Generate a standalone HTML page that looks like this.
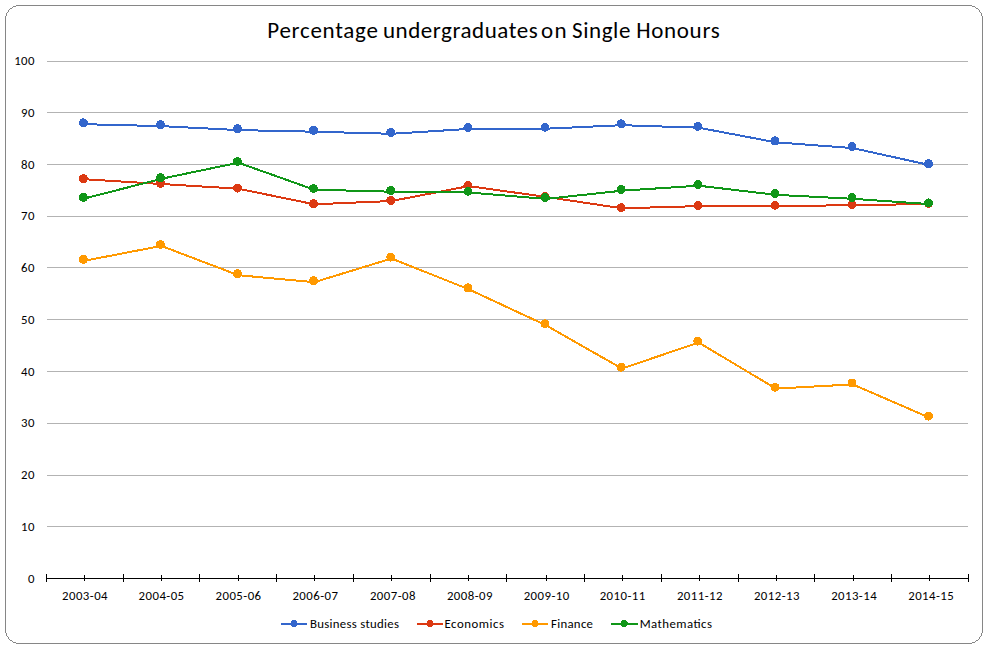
<!DOCTYPE html><html><head><meta charset="utf-8"><title>Percentage undergraduates on Single Honours</title><style>
html,body{margin:0;padding:0;background:#fff;}body{width:987px;height:648px;overflow:hidden;}
svg{display:block;}text{font-family:Carlito,"Liberation Sans",sans-serif;fill:#000;}
.l{fill:none;stroke-width:2;stroke-linejoin:round;}.c{shape-rendering:crispEdges;}
.ax{font-size:12.8px;}.lg{font-size:12.8px;}
.ti{font-size:23px;}
</style></head><body>
<svg width="987" height="648" viewBox="0 0 987 648">
<path fill="#868686" shape-rendering="crispEdges" d="M13 6h3v1h-3zM13 642h3v1h-3zM972 6h3v1h-3zM972 642h3v1h-3zM12 7h1v1h-1zM12 641h1v1h-1zM975 7h1v1h-1zM975 641h1v1h-1zM10 8h2v1h-2zM10 640h2v1h-2zM976 8h2v1h-2zM976 640h2v1h-2zM9 9h1v1h-1zM9 639h1v1h-1zM978 9h1v1h-1zM978 639h1v1h-1zM8 10h1v1h-1zM8 638h1v1h-1zM979 10h1v1h-1zM979 638h1v1h-1zM8 11h1v1h-1zM8 637h1v1h-1zM979 11h1v1h-1zM979 637h1v1h-1zM7 12h1v1h-1zM7 636h1v1h-1zM980 12h1v1h-1zM980 636h1v1h-1zM6 13h1v1h-1zM6 635h1v1h-1zM981 13h1v1h-1zM981 635h1v1h-1zM6 14h1v1h-1zM6 634h1v1h-1zM981 14h1v1h-1zM981 634h1v1h-1zM6 15h1v1h-1zM6 633h1v1h-1zM981 15h1v1h-1zM981 633h1v1h-1zM16 5h956v1h-956zM16 643h956v1h-956zM5 16h1v617h-1zM982 16h1v617h-1z"/>
<text class="ti" x="267.3" y="38" textLength="110.6">Percentage</text>
<text class="ti" x="382.9" y="38" textLength="154.8">undergraduates</text>
<text class="ti" x="541.1" y="38" textLength="25.5">on</text>
<text class="ti" x="572.0" y="38" textLength="58.4">Single</text>
<text class="ti" x="636.2" y="38" textLength="83.5">Honours</text>
<line x1="47" y1="526.5" x2="968" y2="526.5" stroke="#b3b3b3" stroke-width="1"/>
<line x1="47" y1="475.5" x2="968" y2="475.5" stroke="#b3b3b3" stroke-width="1"/>
<line x1="47" y1="423.5" x2="968" y2="423.5" stroke="#b3b3b3" stroke-width="1"/>
<line x1="47" y1="371.5" x2="968" y2="371.5" stroke="#b3b3b3" stroke-width="1"/>
<line x1="47" y1="319.5" x2="968" y2="319.5" stroke="#b3b3b3" stroke-width="1"/>
<line x1="47" y1="267.5" x2="968" y2="267.5" stroke="#b3b3b3" stroke-width="1"/>
<line x1="47" y1="216.5" x2="968" y2="216.5" stroke="#b3b3b3" stroke-width="1"/>
<line x1="47" y1="164.5" x2="968" y2="164.5" stroke="#b3b3b3" stroke-width="1"/>
<line x1="47" y1="112.5" x2="968" y2="112.5" stroke="#b3b3b3" stroke-width="1"/>
<line x1="47" y1="61.5" x2="968" y2="61.5" stroke="#b3b3b3" stroke-width="1"/>
<text class="ax" y="583" x="28.01" textLength="6.49">0</text>
<text class="ax" y="531" x="21.08" textLength="13.43">10</text>
<text class="ax" y="479" x="21.08" textLength="13.43">20</text>
<text class="ax" y="427" x="21.08" textLength="13.43">30</text>
<text class="ax" y="376" x="21.08" textLength="13.43">40</text>
<text class="ax" y="324" x="21.08" textLength="13.43">50</text>
<text class="ax" y="272" x="21.08" textLength="13.43">60</text>
<text class="ax" y="220" x="21.08" textLength="13.43">70</text>
<text class="ax" y="169" x="21.08" textLength="13.43">80</text>
<text class="ax" y="117" x="21.08" textLength="13.43">90</text>
<text class="ax" y="65" x="14.14" textLength="20.36">100</text>
<line x1="46" y1="578.5" x2="969" y2="578.5" stroke="#000" stroke-width="1"/>
<line x1="46.5" y1="574" x2="46.5" y2="582" stroke="#000" stroke-width="1"/>
<line x1="123.5" y1="574" x2="123.5" y2="582" stroke="#000" stroke-width="1"/>
<line x1="199.5" y1="574" x2="199.5" y2="582" stroke="#000" stroke-width="1"/>
<line x1="276.5" y1="574" x2="276.5" y2="582" stroke="#000" stroke-width="1"/>
<line x1="353.5" y1="574" x2="353.5" y2="582" stroke="#000" stroke-width="1"/>
<line x1="430.5" y1="574" x2="430.5" y2="582" stroke="#000" stroke-width="1"/>
<line x1="506.5" y1="574" x2="506.5" y2="582" stroke="#000" stroke-width="1"/>
<line x1="584.5" y1="574" x2="584.5" y2="582" stroke="#000" stroke-width="1"/>
<line x1="661.5" y1="574" x2="661.5" y2="582" stroke="#000" stroke-width="1"/>
<line x1="738.5" y1="574" x2="738.5" y2="582" stroke="#000" stroke-width="1"/>
<line x1="814.5" y1="574" x2="814.5" y2="582" stroke="#000" stroke-width="1"/>
<line x1="891.5" y1="574" x2="891.5" y2="582" stroke="#000" stroke-width="1"/>
<line x1="968.5" y1="574" x2="968.5" y2="582" stroke="#000" stroke-width="1"/>
<line x1="84.5" y1="575" x2="84.5" y2="581" stroke="#000" stroke-width="1"/>
<line x1="161.5" y1="575" x2="161.5" y2="581" stroke="#000" stroke-width="1"/>
<line x1="238.5" y1="575" x2="238.5" y2="581" stroke="#000" stroke-width="1"/>
<line x1="314.5" y1="575" x2="314.5" y2="581" stroke="#000" stroke-width="1"/>
<line x1="391.5" y1="575" x2="391.5" y2="581" stroke="#000" stroke-width="1"/>
<line x1="468.5" y1="575" x2="468.5" y2="581" stroke="#000" stroke-width="1"/>
<line x1="546.5" y1="575" x2="546.5" y2="581" stroke="#000" stroke-width="1"/>
<line x1="622.5" y1="575" x2="622.5" y2="581" stroke="#000" stroke-width="1"/>
<line x1="699.5" y1="575" x2="699.5" y2="581" stroke="#000" stroke-width="1"/>
<line x1="776.5" y1="575" x2="776.5" y2="581" stroke="#000" stroke-width="1"/>
<line x1="853.5" y1="575" x2="853.5" y2="581" stroke="#000" stroke-width="1"/>
<line x1="929.5" y1="575" x2="929.5" y2="581" stroke="#000" stroke-width="1"/>
<text class="ax" y="600" x="62.03" textLength="45.53">2003-04</text>
<text class="ax" y="600" x="138.58" textLength="45.53">2004-05</text>
<text class="ax" y="600" x="215.54" textLength="45.53">2005-06</text>
<text class="ax" y="600" x="292.44" textLength="45.53">2006-07</text>
<text class="ax" y="600" x="369.89" textLength="45.53">2007-08</text>
<text class="ax" y="600" x="446.94" textLength="45.53">2008-09</text>
<text class="ax" y="600" x="523.69" textLength="45.53">2009-10</text>
<text class="ax" y="600" x="599.69" textLength="45.53">2010-11</text>
<text class="ax" y="600" x="676.89" textLength="45.53">2011-12</text>
<text class="ax" y="600" x="753.94" textLength="45.53">2012-13</text>
<text class="ax" y="600" x="831.13" textLength="45.53">2013-14</text>
<text class="ax" y="600" x="908.24" textLength="45.53">2014-15</text>
<polyline class="l c" stroke="#3366cc" points="84.2,124.2 161.3,126.1 238.3,130.1 314.3,131.7 391.6,133.8 468.8,128.9 545.8,128.7 622.0,125.2 698.7,127.7 775.8,142.3 852.8,148.1 929.3,165.0"/>
<circle cx="83.4" cy="122.8" r="4.5" class="c" fill="#3366cc"/>
<circle cx="160.5" cy="124.7" r="4.5" class="c" fill="#3366cc"/>
<circle cx="237.5" cy="128.7" r="4.5" class="c" fill="#3366cc"/>
<circle cx="313.5" cy="130.3" r="4.5" class="c" fill="#3366cc"/>
<circle cx="390.8" cy="132.4" r="4.5" class="c" fill="#3366cc"/>
<circle cx="468.0" cy="127.5" r="4.5" class="c" fill="#3366cc"/>
<circle cx="545.0" cy="127.3" r="4.5" class="c" fill="#3366cc"/>
<circle cx="621.2" cy="123.8" r="4.5" class="c" fill="#3366cc"/>
<circle cx="697.9" cy="126.3" r="4.5" class="c" fill="#3366cc"/>
<circle cx="775.0" cy="140.9" r="4.5" class="c" fill="#3366cc"/>
<circle cx="852.0" cy="146.7" r="4.5" class="c" fill="#3366cc"/>
<circle cx="928.5" cy="163.6" r="4.5" class="c" fill="#3366cc"/>
<polyline class="l c" stroke="#dc3912" points="84.2,179.2 161.3,184.0 238.3,188.7 314.3,204.3 391.6,201.0 468.8,186.1 545.8,196.9 622.0,208.3 698.7,206.1 775.8,205.9 852.8,205.3 929.3,203.9"/>
<circle cx="83.4" cy="178.6" r="4.5" class="c" fill="#dc3912"/>
<circle cx="160.5" cy="183.4" r="4.5" class="c" fill="#dc3912"/>
<circle cx="237.5" cy="188.1" r="4.5" class="c" fill="#dc3912"/>
<circle cx="313.5" cy="203.7" r="4.5" class="c" fill="#dc3912"/>
<circle cx="390.8" cy="200.4" r="4.5" class="c" fill="#dc3912"/>
<circle cx="468.0" cy="185.5" r="4.5" class="c" fill="#dc3912"/>
<circle cx="545.0" cy="196.3" r="4.5" class="c" fill="#dc3912"/>
<circle cx="621.2" cy="207.7" r="4.5" class="c" fill="#dc3912"/>
<circle cx="697.9" cy="205.5" r="4.5" class="c" fill="#dc3912"/>
<circle cx="775.0" cy="205.3" r="4.5" class="c" fill="#dc3912"/>
<circle cx="852.0" cy="204.7" r="4.5" class="c" fill="#dc3912"/>
<circle cx="928.5" cy="203.3" r="4.5" class="c" fill="#dc3912"/>
<polyline class="l c" stroke="#ff9900" points="84.2,260.8 161.3,245.9 238.3,275.2 314.3,282.2 391.6,258.5 468.8,289.3 545.8,325.2 622.0,368.6 698.7,342.5 775.8,388.6 852.8,384.4 929.3,417.6"/>
<circle cx="83.4" cy="259.4" r="4.5" class="c" fill="#ff9900"/>
<circle cx="160.5" cy="244.5" r="4.5" class="c" fill="#ff9900"/>
<circle cx="237.5" cy="273.8" r="4.5" class="c" fill="#ff9900"/>
<circle cx="313.5" cy="280.8" r="4.5" class="c" fill="#ff9900"/>
<circle cx="390.8" cy="257.1" r="4.5" class="c" fill="#ff9900"/>
<circle cx="468.0" cy="287.9" r="4.5" class="c" fill="#ff9900"/>
<circle cx="545.0" cy="323.8" r="4.5" class="c" fill="#ff9900"/>
<circle cx="621.2" cy="367.2" r="4.5" class="c" fill="#ff9900"/>
<circle cx="697.9" cy="341.1" r="4.5" class="c" fill="#ff9900"/>
<circle cx="775.0" cy="387.2" r="4.5" class="c" fill="#ff9900"/>
<circle cx="852.0" cy="383.0" r="4.5" class="c" fill="#ff9900"/>
<circle cx="928.5" cy="416.2" r="4.5" class="c" fill="#ff9900"/>
<polyline class="l c" stroke="#109618" points="84.2,198.6 161.3,178.8 238.3,162.7 314.3,189.7 391.6,191.7 468.8,192.5 545.8,198.9 622.0,190.7 698.7,185.7 775.8,194.8 852.8,198.8 929.3,204.1"/>
<circle cx="83.4" cy="197.4" r="4.5" class="c" fill="#109618"/>
<circle cx="160.5" cy="177.6" r="4.5" class="c" fill="#109618"/>
<circle cx="237.5" cy="161.5" r="4.5" class="c" fill="#109618"/>
<circle cx="313.5" cy="188.5" r="4.5" class="c" fill="#109618"/>
<circle cx="390.8" cy="190.5" r="4.5" class="c" fill="#109618"/>
<circle cx="468.0" cy="191.3" r="4.5" class="c" fill="#109618"/>
<circle cx="545.0" cy="197.7" r="4.5" class="c" fill="#109618"/>
<circle cx="621.2" cy="189.5" r="4.5" class="c" fill="#109618"/>
<circle cx="697.9" cy="184.5" r="4.5" class="c" fill="#109618"/>
<circle cx="775.0" cy="193.6" r="4.5" class="c" fill="#109618"/>
<circle cx="852.0" cy="197.6" r="4.5" class="c" fill="#109618"/>
<circle cx="928.5" cy="202.9" r="4.5" class="c" fill="#109618"/>
<line x1="281" y1="624" x2="307" y2="624" stroke="#3366cc" stroke-width="2" class="c"/>
<circle cx="294.0" cy="623.5" r="3.5" class="c" fill="#3366cc"/>
<text class="lg" y="628" x="310.00" textLength="89.03">Business studies</text>
<line x1="417" y1="624" x2="443" y2="624" stroke="#dc3912" stroke-width="2" class="c"/>
<circle cx="430.0" cy="623.5" r="3.5" class="c" fill="#dc3912"/>
<text class="lg" y="628" x="444.50" textLength="59.58">Economics</text>
<line x1="522" y1="624" x2="548" y2="624" stroke="#ff9900" stroke-width="2" class="c"/>
<circle cx="535.0" cy="623.5" r="3.5" class="c" fill="#ff9900"/>
<text class="lg" y="628" x="551.00" textLength="41.98">Finance</text>
<line x1="611" y1="624" x2="637.6" y2="624" stroke="#109618" stroke-width="2" class="c"/>
<circle cx="624.3" cy="623.5" r="3.5" class="c" fill="#109618"/>
<text class="lg" y="628" x="639.70" textLength="72.21">Mathematics</text>
</svg></body></html>
